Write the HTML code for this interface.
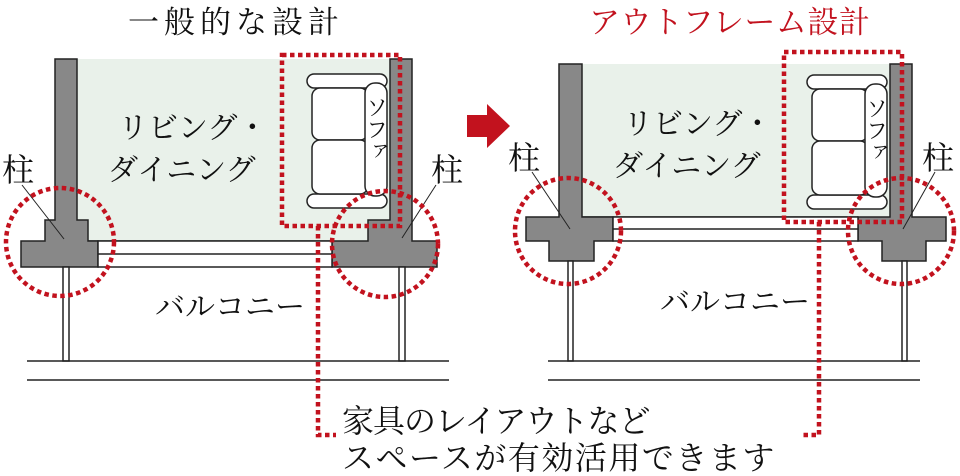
<!DOCTYPE html>
<html><head><meta charset="utf-8"><style>
html,body{margin:0;padding:0;background:#fff}
svg{display:block}
text{font-family:"Liberation Serif","Noto Serif CJK SC","Noto Sans CJK JP",serif;fill:#111}
</style></head><body>
<svg width="960" height="476" viewBox="0 0 960 476" xmlns="http://www.w3.org/2000/svg">
<g stroke="#222" stroke-width="1.5">
<rect x="77" y="59" width="313" height="182" fill="#e9f1ea" stroke="none"/>
<line x1="77" y1="241" x2="332" y2="241"/>
<path d="M55 59 H77 V220 H88 V241 H98 V267 H21 V241 H45 V220 H55 Z" fill="#888"/>
<path d="M390 59 H412 V241 H437 V267 H332 V241 H368 V220 H390 Z" fill="#888"/>
<rect x="98" y="241" width="234" height="26" fill="#fff"/>
<line x1="98" y1="254" x2="332" y2="254"/>
<rect x="63" y="267" width="6" height="94" fill="#fff"/>
<rect x="399" y="267" width="6" height="94" fill="#fff"/>
<line x1="27" y1="361" x2="449" y2="361"/>
<line x1="27" y1="380" x2="449" y2="380"/>
<line x1="22" y1="185" x2="64" y2="239" stroke-width="1"/>
<line x1="436" y1="185" x2="402" y2="238" stroke-width="1"/>
<g fill="#fff">
<rect x="307" y="74" width="80" height="14" rx="7"/>
<rect x="307" y="194" width="80" height="14" rx="7"/>
<rect x="312" y="88" width="56" height="52" rx="8"/>
<rect x="312" y="140" width="56" height="54" rx="8"/>
<rect x="365" y="83" width="22" height="113" rx="10"/>
</g>

<rect x="582" y="64" width="308" height="153" fill="#e9f1ea" stroke="none"/>
<line x1="582" y1="217" x2="858" y2="217"/>
<path d="M559 64 H582 V217 H613 V241 H594 V261 H549 V241 H526 V217 H559 Z" fill="#888"/>
<path d="M890 64 H912 V217 H946 V241 H926 V261 H882 V241 H858 V217 H890 Z" fill="#888"/>
<rect x="613" y="217" width="245" height="24" fill="#fff"/>
<line x1="613" y1="229" x2="858" y2="229"/>
<rect x="568" y="261" width="5" height="100" fill="#fff"/>
<rect x="902" y="261" width="5" height="100" fill="#fff"/>
<line x1="548" y1="361" x2="920" y2="361"/>
<line x1="548" y1="380" x2="920" y2="380"/>
<line x1="532" y1="172" x2="570" y2="229" stroke-width="1"/>
<line x1="935" y1="172" x2="903" y2="229" stroke-width="1"/>
<g fill="#fff">
<rect x="807" y="75" width="80" height="14" rx="7"/>
<rect x="807" y="195" width="80" height="14" rx="7"/>
<rect x="812" y="89" width="56" height="52" rx="8"/>
<rect x="812" y="141" width="56" height="54" rx="8"/>
<rect x="865" y="84" width="22" height="113" rx="10"/>
</g>
</g>

<g fill="none" stroke="#c2121e" stroke-width="4.5" stroke-dasharray="4.5 3.5">
<rect x="282" y="55" width="118" height="171"/>
<circle cx="60" cy="242" r="54"/>
<circle cx="385" cy="244" r="53"/>
<polyline points="318,226 318,435 336,435"/>
<rect x="784" y="52" width="118" height="170"/>
<circle cx="568" cy="231" r="53"/>
<circle cx="901" cy="231" r="53"/>
<polyline points="819,222 819,435 801,435"/>
</g>

<polygon points="467,115 487,115 487,104 510,126 487,148 487,137 467,137" fill="#c2121e"/>

<text x="128" y="33" font-size="31" letter-spacing="5">一般的な設計</text>
<text x="589" y="33" font-size="31" letter-spacing="0.5" style="fill:#c2121e">アウトフレーム設計</text>
<text x="118" y="138" font-size="30">リビング・</text>
<text x="108" y="180" font-size="30">ダイニング</text>
<text x="623" y="134" font-size="30">リビング・</text>
<text x="613" y="176" font-size="30">ダイニング</text>
<text x="155" y="317" font-size="30">バルコニー</text>
<text x="660" y="312" font-size="30">バルコニー</text>
<text x="2" y="181" font-size="32">柱</text>
<text x="431" y="181" font-size="32">柱</text>
<text x="508" y="169" font-size="32">柱</text>
<text x="922" y="169" font-size="32">柱</text>
<text font-size="22" writing-mode="tb" x="376" y="96">ソファ</text>
<text font-size="22" writing-mode="tb" x="876" y="97">ソファ</text>
<text x="342" y="432" font-size="32" letter-spacing="-1">家具のレイアウトなど</text>
<text x="342" y="469" font-size="32" letter-spacing="1.5">スペースが有効活用できます</text>
</svg>
</body></html>
